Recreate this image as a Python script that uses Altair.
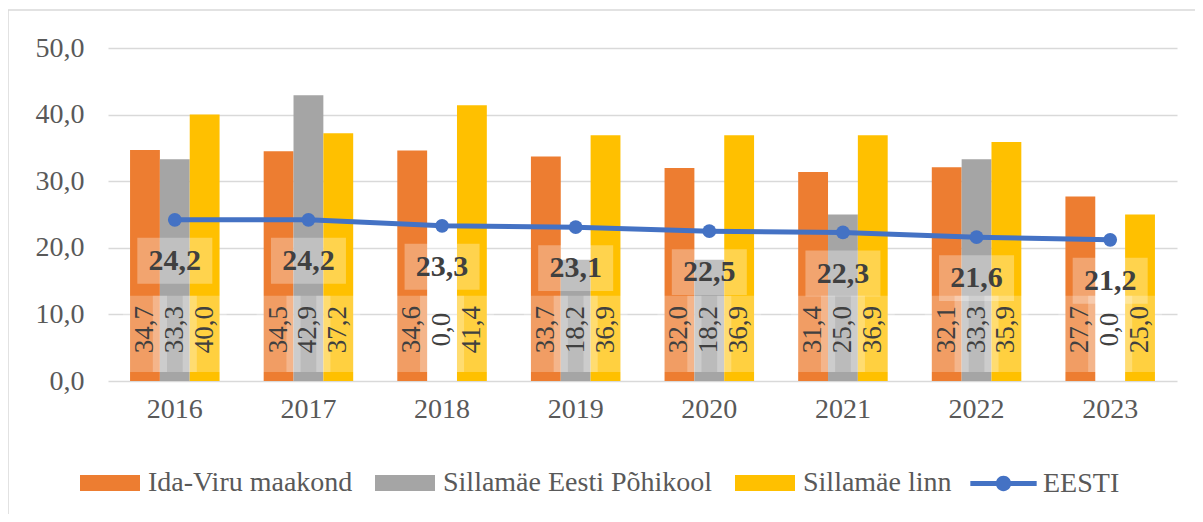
import altair as alt
import pandas as pd

years = ["2016", "2017", "2018", "2019", "2020", "2021", "2022", "2023"]
bar_series = ["Ida-Viru maakond", "Sillamäe Eesti Põhikool", "Sillamäe linn"]
ida_viru = [34.7, 34.5, 34.6, 33.7, 32.0, 31.4, 32.1, 27.7]
pohikool = [33.3, 42.9, 0.0, 18.2, 18.2, 25.0, 33.3, 0.0]
linn = [40.0, 37.2, 41.4, 36.9, 36.9, 36.9, 35.9, 25.0]
eesti = [24.2, 24.2, 23.3, 23.1, 22.5, 22.3, 21.6, 21.2]
bar_colors = ["#ED7D31", "#A5A5A5", "#FFC000"]
line_color = "#4472C4"

FONT = "Liberation Serif"
LFONT = "'Times New Roman', 'Liberation Serif', serif"


def fmt(v):
    return f"{v:.1f}".replace(".", ",")


rows = []
for s, vals in zip(bar_series, [ida_viru, pohikool, linn]):
    for y, v in zip(years, vals):
        rows.append({"year": y, "series": s, "value": v, "label": fmt(v)})
bars_df = pd.DataFrame(rows)
line_df = pd.DataFrame({"year": years, "series": "EESTI", "value": eesti,
                        "label": [fmt(v) for v in eesti]})

x_scale = alt.Scale(domain=years, paddingInner=0.33, paddingOuter=0.165)
y_scale = alt.Scale(domain=[0, 50])

x_enc = alt.X("year:N", scale=x_scale, sort=years,
              axis=alt.Axis(title=None, labelFont=FONT, labelFontSize=28,
                            labelColor="#595959", labelPadding=14, ticks=False,
                            domain=False, labelAngle=0))
y_enc = alt.Y("value:Q", scale=y_scale,
              axis=alt.Axis(title=None, values=[0, 10, 20, 30, 40, 50],
                            labelExpr="replace(format(datum.value, '.1f'), '.', ',')",
                            labelFont=FONT, labelFontSize=28, labelColor="#595959",
                            labelPadding=24, ticks=False, domain=False,
                            grid=True, gridColor="#D9D9D9", gridWidth=1.5))

xoff = alt.XOffset("series:N", sort=bar_series, scale=alt.Scale(domain=bar_series))

bars = alt.Chart(bars_df).mark_bar().encode(
    x=x_enc, y=y_enc, xOffset=xoff,
    color=alt.Color("series:N", sort=bar_series,
                    scale=alt.Scale(domain=bar_series, range=bar_colors),
                    legend=alt.Legend(orient="none", legendX=-28, legendY=405,
                                      direction="horizontal", columns=3,
                                      title=None, labelFont=LFONT, labelFontSize=28,
                                      labelColor="#595959", labelOffset=8,
                                      columnPadding=22, labelLimit=500, padding=0,
                                      symbolType="M-1,-0.27H1V0.27H-1Z",
                                      symbolSize=3600, symbolStrokeWidth=0,
                                      symbolOpacity=1)),
)

bar_lab_base = alt.Chart(bars_df).transform_calculate(
    pos="7.7", lo="1.35", hi="12.8")

bar_boxes = bar_lab_base.mark_bar(color="white", opacity=0.25, width=44).encode(
    x=alt.X("year:N", scale=x_scale, sort=years),
    xOffset=xoff,
    y=alt.Y("lo:Q", scale=y_scale), y2="hi:Q")

bar_text = bar_lab_base.mark_text(angle=270, font=LFONT, fontSize=27,
                                  color="#404040", align="center",
                                  baseline="middle").encode(
    x=alt.X("year:N", scale=x_scale, sort=years),
    xOffset=xoff,
    y=alt.Y("pos:Q", scale=y_scale), text="label:N")

line = alt.Chart(line_df).mark_line(
    strokeWidth=5, point=alt.OverlayMarkDef(size=190, filled=True)).encode(
    x=alt.X("year:N", scale=x_scale, sort=years),
    y=alt.Y("value:Q", scale=y_scale),
    color=alt.Color("series:N",
                    scale=alt.Scale(domain=["EESTI"], range=[line_color]),
                    legend=alt.Legend(orient="none", legendX=862, legendY=402,
                                      title=None, labelFont=LFONT, labelFontSize=28,
                                      labelColor="#595959", labelOffset=6,
                                      labelLimit=300, padding=0,
                                      symbolType="M-1,-0.075H1V0.075H-1Z M0.23,0A0.23,0.23 0 1,1 -0.23,0A0.23,0.23 0 1,1 0.23,0Z",
                                      symbolSize=4400, symbolStrokeWidth=0,
                                      symbolFillColor=line_color,
                                      symbolStrokeColor=line_color,
                                      symbolOpacity=1)),
)

line_lab_base = alt.Chart(line_df).transform_calculate(
    pos="datum.value - 6.2", lo="datum.value - 9.6",
    hi="datum.value - 2.7")

line_boxes = line_lab_base.mark_bar(color="white", opacity=0.3, width=75).encode(
    x=alt.X("year:N", scale=x_scale, sort=years),
    y=alt.Y("lo:Q", scale=y_scale), y2="hi:Q")

line_text = line_lab_base.mark_text(font=FONT, fontSize=30, fontWeight="bold",
                                    color="#404040", align="center",
                                    baseline="middle").encode(
    x=alt.X("year:N", scale=x_scale, sort=years),
    y=alt.Y("pos:Q", scale=y_scale), text="label:N")

frame = alt.Chart(alt.Data(values=[{}])).mark_rect(
    fill=None, stroke="#D9D9D9", strokeWidth=1.5).encode(
    x=alt.value(-100), x2=alt.value(1200), y=alt.value(-38), y2=alt.value(700))

chart = alt.layer(
    bars, bar_boxes, bar_text, line, line_boxes, line_text, frame
).resolve_scale(color="independent").properties(
    width=1069, height=333,
    padding={"left": 100, "top": 40, "right": 18, "bottom": 133},
    autosize=alt.AutoSizeParams(type="none"),
).configure(font=FONT).configure_view(stroke=None).configure_legend(
    labelFont=LFONT, labelFontSize=28, labelColor="#595959"
)

chart.save("out.html", embed_options={"renderer": "svg", "actions": False})
